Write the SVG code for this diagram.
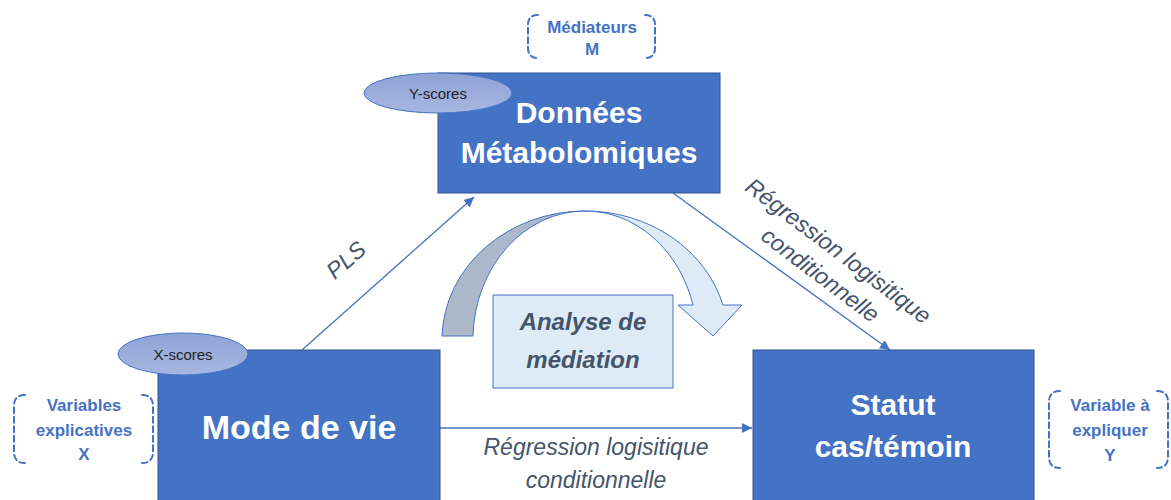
<svg xmlns="http://www.w3.org/2000/svg" width="1171" height="500" viewBox="0 0 1171 500">
<defs>
<style>
.box{fill:#4472C4;stroke:#2F528F;stroke-width:1}
.boxt{font-family:"Liberation Sans",Arial,sans-serif;font-weight:bold;fill:#FFFFFF;text-anchor:middle}
.ell{fill:url(#eg);stroke:#4472C4;stroke-width:1}
.ellt{font-family:"Liberation Sans",Arial,sans-serif;font-size:15px;fill:#1F1F1F;text-anchor:middle}
.brk{fill:none;stroke:#4472C4;stroke-width:2;stroke-dasharray:6 3.5;stroke-linecap:round}
.brkt{font-family:"Liberation Sans",Arial,sans-serif;font-weight:bold;font-size:17px;fill:#4472C4;text-anchor:middle}
.con{stroke:#4472C4;stroke-width:1.3;fill:none;marker-end:url(#ah)}
.lbl{font-family:"Liberation Sans",Arial,sans-serif;font-style:italic;font-size:23px;fill:#44546A;text-anchor:middle}
</style>
<linearGradient id="eg" x1="0" y1="0" x2="0" y2="1">
<stop offset="0" stop-color="#8EA3D6"/>
<stop offset="1" stop-color="#A7B7E1"/>
</linearGradient>
<marker id="ah" viewBox="0 0 10 10" refX="10" refY="5" markerWidth="10" markerHeight="10" markerUnits="userSpaceOnUse" orient="auto">
<path d="M0,0 L10,5 L0,10 z" fill="#4472C4"/>
</marker>
</defs>

<g id="connectors">
<line class="con" x1="302" y1="350" x2="474" y2="197"/>
<line class="con" x1="673" y1="193" x2="890" y2="350"/>
<line class="con" x1="440" y1="428" x2="752" y2="428"/>
<text class="lbl" transform="translate(346,260) rotate(-41)" x="0" y="8">PLS</text>
<g transform="translate(830,262) rotate(37)">
<text class="lbl" x="0" y="-6">Régression logisitique</text>
<text class="lbl" x="0" y="24">conditionnelle</text>
</g>
<text class="lbl" x="596" y="455">Régression logisitique</text>
<text class="lbl" x="596" y="488">conditionnelle</text>
</g>

<g id="mediation-arrow">
<path d="M442,336 A143,129 0 0 1 585,211 A112,129 0 0 0 473,336 Z" fill="#ADB9CA" stroke="#4472C4" stroke-width="1"/>
<path d="M585,211 A143,129 0 0 1 723,305 L742,305 L713,336 L678,305 L693,305 A112,129 0 0 0 585,211 Z" fill="#DEEBF7" stroke="#4472C4" stroke-width="1"/>
</g>

<g id="node-mediation">
<rect x="493" y="295" width="180" height="93" fill="#DEEBF7" stroke="#4472C4" stroke-width="1"/>
<text x="583" y="330" font-family="Liberation Sans,Arial,sans-serif" font-weight="bold" font-style="italic" font-size="24" fill="#44546A" text-anchor="middle">Analyse de</text>
<text x="583" y="368" font-family="Liberation Sans,Arial,sans-serif" font-weight="bold" font-style="italic" font-size="24" fill="#44546A" text-anchor="middle">médiation</text>
</g>

<g id="node-metabo">
<rect class="box" x="438" y="73" width="282" height="120"/>
<text class="boxt" x="579" y="123" font-size="30">Données</text>
<text class="boxt" x="579" y="163" font-size="30">Métabolomiques</text>
<ellipse class="ell" cx="438" cy="93" rx="74" ry="20"/>
<text class="ellt" x="438" y="99">Y-scores</text>
</g>

<g id="node-mode">
<rect class="box" x="158" y="350" width="282" height="160"/>
<text class="boxt" x="299" y="439" font-size="34">Mode de vie</text>
<ellipse class="ell" cx="183" cy="354" rx="65" ry="21"/>
<text class="ellt" x="183" y="360">X-scores</text>
</g>

<g id="node-statut">
<rect class="box" x="753" y="350" width="281" height="160"/>
<text class="boxt" x="893" y="415" font-size="30">Statut</text>
<text class="boxt" x="893" y="457" font-size="30">cas/témoin</text>
</g>

<g id="bracket-mediateurs">
<path class="brk" d="M538,15 Q528,15 528,25 L528,48 Q528,58 538,58"/>
<path class="brk" d="M645,15 Q655,15 655,25 L655,48 Q655,58 645,58"/>
<text class="brkt" x="592" y="33">Médiateurs</text>
<text class="brkt" x="592" y="55">M</text>
</g>

<g id="bracket-x">
<path class="brk" d="M25,395 Q14,395 14,406 L14,452 Q14,463 25,463"/>
<path class="brk" d="M142,395 Q153,395 153,406 L153,452 Q153,463 142,463"/>
<text class="brkt" x="84" y="411">Variables</text>
<text class="brkt" x="84" y="436">explicatives</text>
<text class="brkt" x="84" y="460">X</text>
</g>

<g id="bracket-y">
<path class="brk" d="M1060,391 Q1049,391 1049,402 L1049,457 Q1049,468 1060,468"/>
<path class="brk" d="M1157,391 Q1168,391 1168,402 L1168,457 Q1168,468 1157,468"/>
<text class="brkt" x="1110" y="411">Variable à</text>
<text class="brkt" x="1110" y="436">expliquer</text>
<text class="brkt" x="1110" y="461">Y</text>
</g>
</svg>
